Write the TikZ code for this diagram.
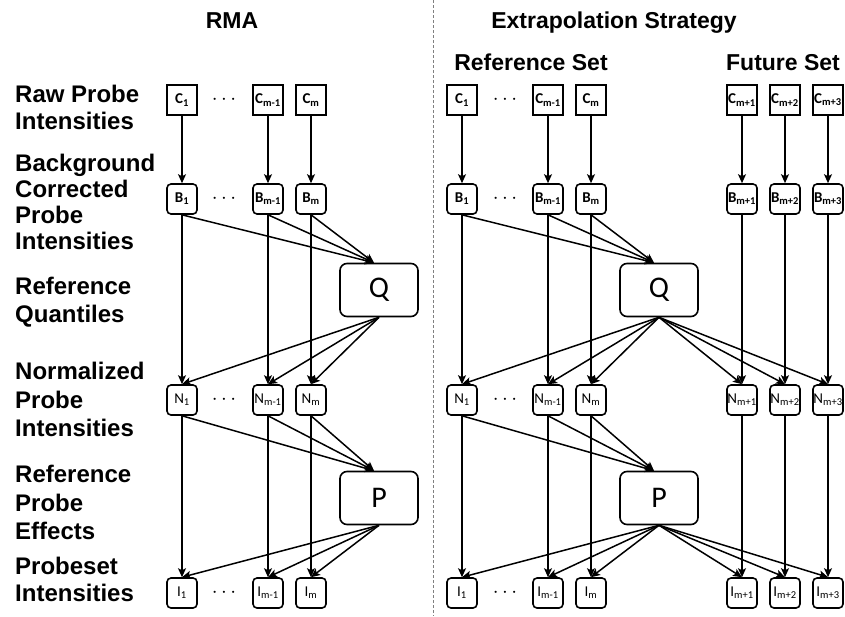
\documentclass[tikz,border=0pt]{standalone}
\usepackage{fontspec}
\setmainfont{Liberation Sans}
\newfontfamily\boxfont{Carlito}
\usetikzlibrary{arrows.meta}
\begin{document}
\begin{tikzpicture}[x=1pt,y=-1pt,
  lab/.style={anchor=north west, inner sep=0pt, align=left},
  ttl/.style={anchor=base, inner sep=0pt, font=\bfseries\fontsize{23}{23}\selectfont},
  cbox/.style={draw, line width=1.6pt, minimum width=30pt, minimum height=30pt, inner sep=0pt, font=\boxfont\bfseries\fontsize{15}{15}\selectfont},
  rbox/.style={cbox, rounded corners=4pt},
  nbox/.style={rbox, font=\boxfont\fontsize{15}{15}\selectfont},
  bigbox/.style={draw, line width=1.6pt, rounded corners=7pt, minimum width=78pt, minimum height=53pt, inner sep=0pt, font=\boxfont\fontsize{30}{30}\selectfont},
  arr/.style={line width=1.5pt, -{Stealth[length=9pt,width=8pt,inset=2pt]}},
  dotsn/.style={inner sep=0pt, font=\fontsize{22}{22}\selectfont},
  sep/.style={draw=gray, line width=0.6pt, dash pattern=on 3pt off 2pt}
]
\useasboundingbox (0,0) rectangle (845,616);

% separator
\coordinate (sepT) at (433,0);
\coordinate (sepB) at (433,616);
\draw[sep] (sepT) -- (sepB);

% titles
\node[ttl] (tRMA) at (232,28) {RMA};
\node[ttl] (tEx) at (614,28) {Extrapolation Strategy};
\node[ttl] (tRef) at (531,70) {Reference Set};
\node[ttl] (tFut) at (783,70) {Future Set};

% row labels
\node[lab, font=\bfseries\fontsize{24}{27}\selectfont] (l1) at (15,85) {Raw Probe\\Intensities};
\node[lab, font=\bfseries\fontsize{24}{26}\selectfont] (l2) at (15,154) {Background\\Corrected\\Probe\\Intensities};
\node[lab, font=\bfseries\fontsize{24}{28}\selectfont] (l3) at (15,277) {Reference\\Quantiles};
\node[lab, font=\bfseries\fontsize{24}{28.5}\selectfont] (l4) at (15,362) {Normalized\\Probe\\Intensities};
\node[lab, font=\bfseries\fontsize{24}{28.5}\selectfont] (l5) at (15,465) {Reference\\Probe\\Effects};
\node[lab, font=\bfseries\fontsize{24}{27}\selectfont] (l6) at (15,557) {Probeset\\Intensities};

% ---------- RMA (left) ----------
\node[cbox] (LC1) at (182,100) {C\textsubscript{1}};
\node[cbox] (LCa) at (268,100) {C\textsubscript{m-1}};
\node[cbox] (LCb) at (311,100) {C\textsubscript{m}};
\node[dotsn] (LdC) at (224,100) {$\cdots$};

\node[rbox] (LB1) at (182,199) {B\textsubscript{1}};
\node[rbox] (LBa) at (268,199) {B\textsubscript{m-1}};
\node[rbox] (LBb) at (311,199) {B\textsubscript{m}};
\node[dotsn] (LdB) at (224,199) {$\cdots$};

\node[bigbox] (LQ) at (379,290) {Q};

\node[nbox] (LN1) at (182,400) {N\textsubscript{1}};
\node[nbox] (LNa) at (268,400) {N\textsubscript{m-1}};
\node[nbox] (LNb) at (311,400) {N\textsubscript{m}};
\node[dotsn] (LdN) at (224,400) {$\cdots$};

\node[bigbox] (LP) at (379,498) {P};

\node[nbox] (LI1) at (182,593) {I\textsubscript{1}};
\node[nbox] (LIa) at (268,593) {I\textsubscript{m-1}};
\node[nbox] (LIb) at (311,593) {I\textsubscript{m}};
\node[dotsn] (LdI) at (224,593) {$\cdots$};

\coordinate (LQin) at ([xshift=-5pt]LQ.north);
\coordinate (LPin) at ([xshift=-5pt]LP.north);

\foreach \s in {1,a,b}{
  \draw[arr] (LC\s) -- (LB\s);
  \draw[arr] (LB\s) -- (LN\s);
  \draw[arr] (LN\s) -- (LI\s);
  \draw[arr] (LB\s.south) -- (LQin);
  \draw[arr] (LQ.south) -- (LN\s.north);
  \draw[arr] (LN\s.south) -- (LPin);
  \draw[arr] (LP.south) -- (LI\s.north);
}

% ---------- Extrapolation (right) ----------
\node[cbox] (RC1) at (462,100) {C\textsubscript{1}};
\node[cbox] (RCa) at (548,100) {C\textsubscript{m-1}};
\node[cbox] (RCb) at (591,100) {C\textsubscript{m}};
\node[dotsn] (RdC) at (505,100) {$\cdots$};
\node[cbox] (FC1) at (742,100) {C\textsubscript{m+1}};
\node[cbox] (FC2) at (785,100) {C\textsubscript{m+2}};
\node[cbox] (FC3) at (828,100) {C\textsubscript{m+3}};

\node[rbox] (RB1) at (462,199) {B\textsubscript{1}};
\node[rbox] (RBa) at (548,199) {B\textsubscript{m-1}};
\node[rbox] (RBb) at (591,199) {B\textsubscript{m}};
\node[dotsn] (RdB) at (505,199) {$\cdots$};
\node[rbox] (FB1) at (742,199) {B\textsubscript{m+1}};
\node[rbox] (FB2) at (785,199) {B\textsubscript{m+2}};
\node[rbox] (FB3) at (828,199) {B\textsubscript{m+3}};

\node[bigbox] (RQ) at (659,290) {Q};

\node[nbox] (RN1) at (462,400) {N\textsubscript{1}};
\node[nbox] (RNa) at (548,400) {N\textsubscript{m-1}};
\node[nbox] (RNb) at (591,400) {N\textsubscript{m}};
\node[dotsn] (RdN) at (505,400) {$\cdots$};
\node[nbox] (FN1) at (742,400) {N\textsubscript{m+1}};
\node[nbox] (FN2) at (785,400) {N\textsubscript{m+2}};
\node[nbox] (FN3) at (828,400) {N\textsubscript{m+3}};

\node[bigbox] (RP) at (659,498) {P};

\node[nbox] (RI1) at (462,593) {I\textsubscript{1}};
\node[nbox] (RIa) at (548,593) {I\textsubscript{m-1}};
\node[nbox] (RIb) at (591,593) {I\textsubscript{m}};
\node[dotsn] (RdI) at (505,593) {$\cdots$};
\node[nbox] (FI1) at (742,593) {I\textsubscript{m+1}};
\node[nbox] (FI2) at (785,593) {I\textsubscript{m+2}};
\node[nbox] (FI3) at (828,593) {I\textsubscript{m+3}};

\coordinate (RQin) at ([xshift=-5pt]RQ.north);
\coordinate (RPin) at ([xshift=-5pt]RP.north);

\foreach \s in {1,a,b}{
  \draw[arr] (RC\s) -- (RB\s);
  \draw[arr] (RB\s) -- (RN\s);
  \draw[arr] (RN\s) -- (RI\s);
  \draw[arr] (RB\s.south) -- (RQin);
  \draw[arr] (RQ.south) -- (RN\s.north);
  \draw[arr] (RN\s.south) -- (RPin);
  \draw[arr] (RP.south) -- (RI\s.north);
}
\foreach \s in {1,2,3}{
  \draw[arr] (FC\s) -- (FB\s);
  \draw[arr] (FB\s) -- (FN\s);
  \draw[arr] (FN\s) -- (FI\s);
  \draw[arr] (RQ.south) -- (FN\s.north);
  \draw[arr] (RP.south) -- (FI\s.north);
}
\end{tikzpicture}
\end{document}
